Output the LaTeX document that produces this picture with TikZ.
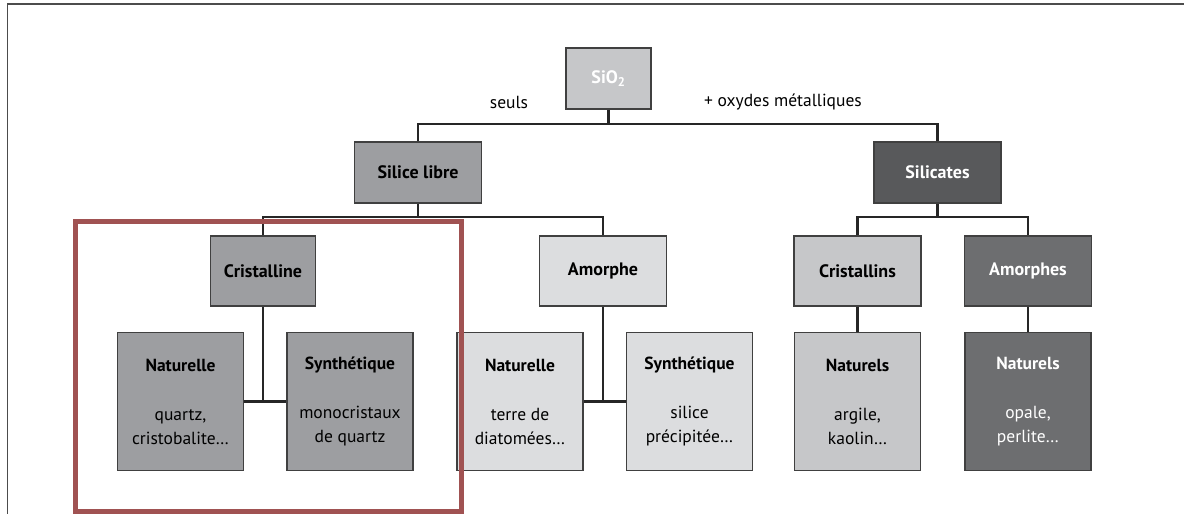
\documentclass[tikz,border=0pt]{standalone}
\usepackage{fontspec}
\setmainfont{PT Sans}
\definecolor{cpale}{HTML}{DCDDDF}
\definecolor{clight}{HTML}{C6C7C9}
\definecolor{cmid}{HTML}{9D9EA1}
\definecolor{cdeep}{HTML}{6D6E70}
\definecolor{cdark}{HTML}{58595B}
\definecolor{cframe}{HTML}{A05252}
\begin{document}
\begin{tikzpicture}[x=1pt,y=-1pt,
  box/.style={draw=black!75,line width=1.5pt,minimum height=61pt,align=center,inner sep=0pt,font=\bfseries\fontsize{18}{22}\selectfont},
  catbox/.style={box,minimum width=127pt,minimum height=70pt},
  leaf/.style={box,minimum width=126pt,minimum height=138pt,font=\fontsize{17.5}{24}\selectfont},
  link/.style={line width=2.2pt,black!85},
  tag/.style={font=\fontsize{17.5}{20}\selectfont}]
  \useasboundingbox (0,0) rectangle (1184,514);
  \draw[black!70,line width=1.5pt] (7.7,514) -- (7.7,3.8) -- (1184,3.8);
  % top levels
  \node[box,fill=clight,text=white,minimum width=85pt] (sio) at (608.5,78.5) {SiO\textsubscript{2}};
  \node[box,fill=cmid,minimum width=127pt] (silice) at (418,172.5) {Silice libre};
  \node[box,fill=cdark,text=white,minimum width=127pt] (silicates) at (937.5,172.5) {Silicates};
  \node[tag] (seuls) at (509,102) {seuls};
  \node[tag] (oxydes) at (783,102) {+ oxydes métalliques};
  % second level
  \node[catbox,fill=cmid,minimum width=105pt] (cristalline) at (263,271) {Cristalline};
  \node[catbox,fill=cpale] (amorphe) at (603,271) {Amorphe};
  \node[catbox,fill=clight] (cristallins) at (857.5,271) {Cristallins};
  \node[catbox,fill=cdeep,text=white] (amorphes) at (1028,271) {Amorphes};
  % leaves
  \node[leaf,fill=cmid] (nat1) at (180.5,401.5) {\textbf{Naturelle}\\[25pt]quartz,\\cristobalite…};
  \node[leaf,fill=cmid] (syn1) at (350,401.5) {\textbf{Synthétique}\\[25pt]monocristaux\\de quartz};
  \node[leaf,fill=cpale] (nat2) at (520,401.5) {\textbf{Naturelle}\\[25pt]terre de\\diatomées…};
  \node[leaf,fill=cpale] (syn2) at (689.5,401.5) {\textbf{Synthétique}\\[25pt]silice\\précipitée…};
  \node[leaf,fill=clight] (nats1) at (857.5,401.5) {\textbf{Naturels}\\[25pt]argile,\\kaolin…};
  \node[leaf,fill=cdeep,text=white] (nats2) at (1028,401.5) {\textbf{Naturels}\\[25pt]opale,\\perlite…};
  % connectors
  \coordinate (top) at (608.5,124);
  \coordinate (forkA) at (418,217);
  \coordinate (forkB) at (937.5,217);
  \draw[link] (sio.south) -- (top);
  \draw[link] (silice.north) |- (top) -| (silicates.north);
  \draw[link] (silice.south) -- (forkA);
  \draw[link] (cristalline.north) |- (forkA) -| (amorphe.north);
  \draw[link] (silicates.south) -- (forkB);
  \draw[link] (cristallins.north) |- (forkB) -| (amorphes.north);
  \draw[link] (cristalline.south) -- (cristalline.south |- nat1.east);
  \draw[link] (nat1.east) -- (syn1.west);
  \draw[link] (amorphe.south) -- (amorphe.south |- nat2.east);
  \draw[link] (nat2.east) -- (syn2.west);
  \draw[link] (cristallins.south) -- (nats1.north);
  \draw[link] (amorphes.south) -- (nats2.north);
  % highlight
  \draw[cframe,line width=5pt] (75,221) rectangle (461,511);
\end{tikzpicture}
\end{document}
